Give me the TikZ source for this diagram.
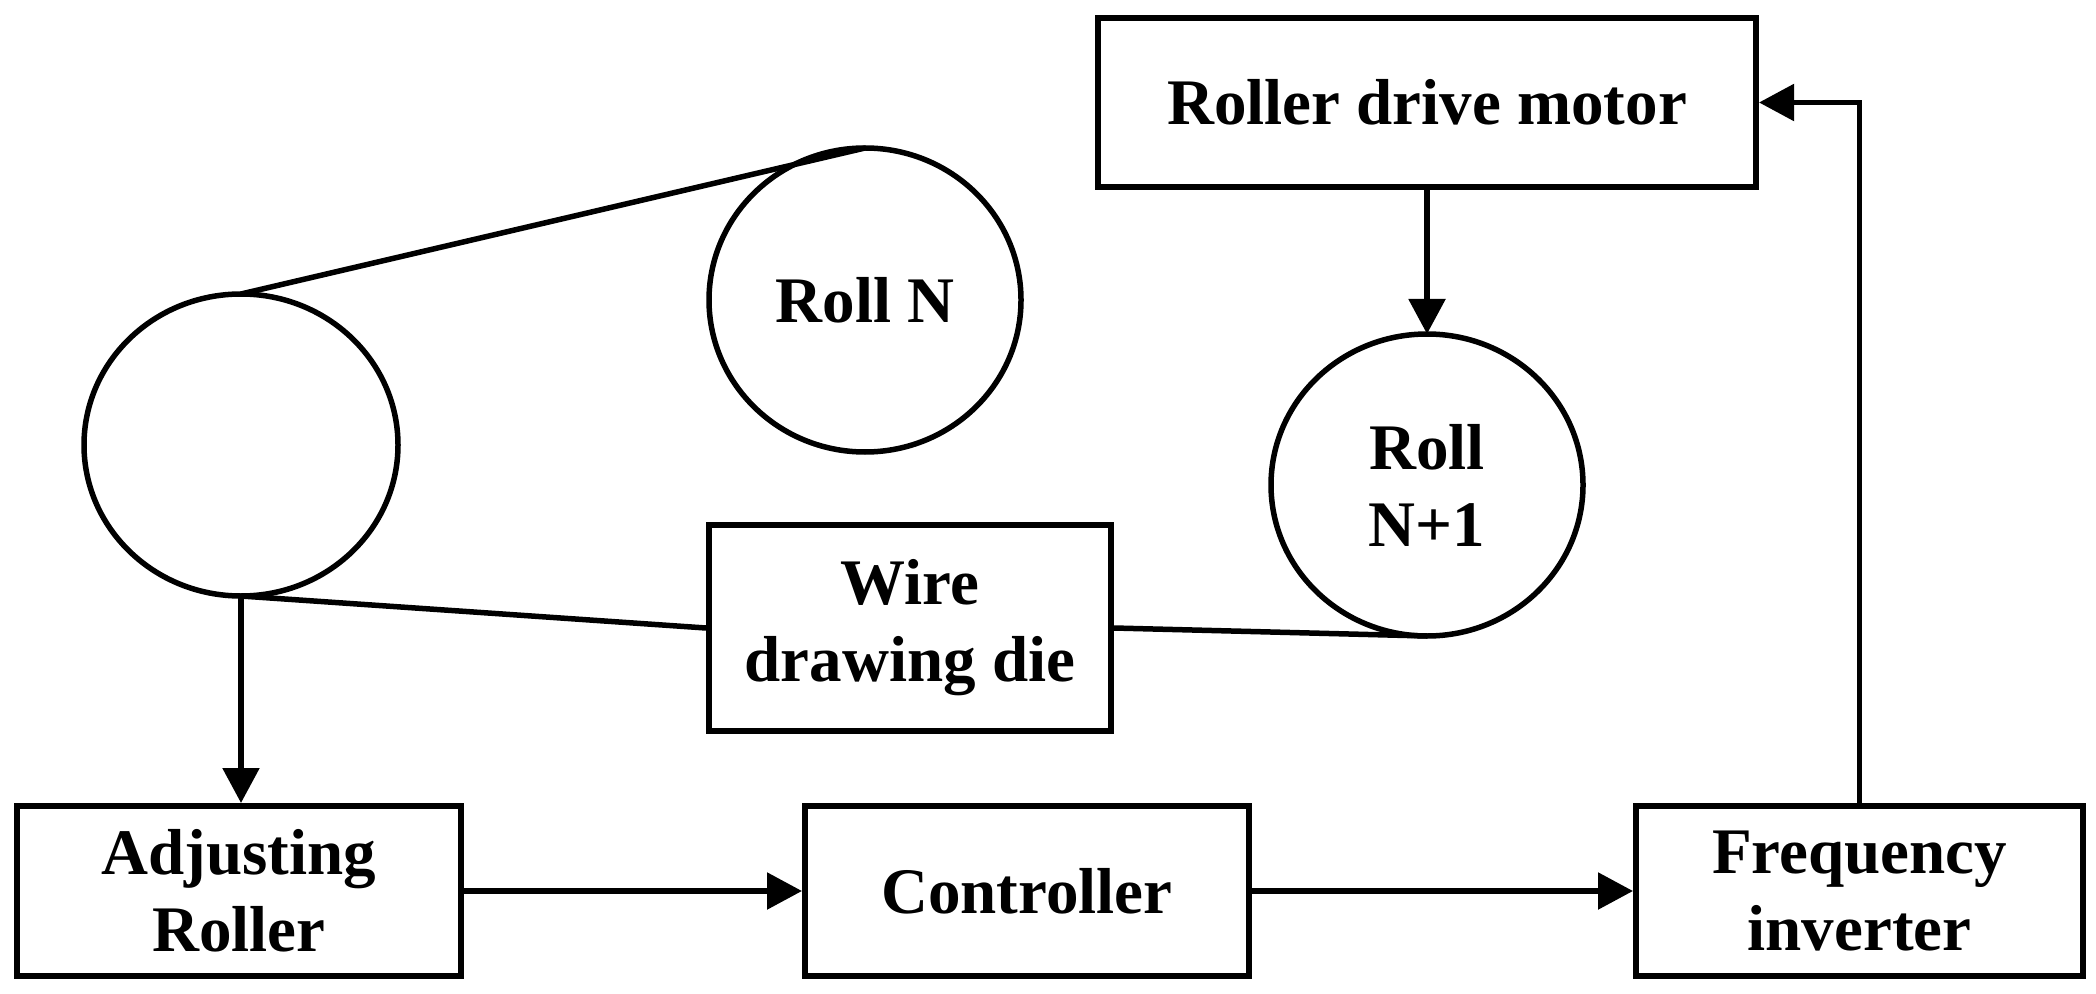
\documentclass[tikz,border=0pt]{standalone}
\usepackage{fontspec}
\setmainfont{Liberation Serif}
\usetikzlibrary{arrows.meta,shapes.geometric}
\begin{document}
\begin{tikzpicture}[x=0.5pt,y=-0.5pt,
  lbl/.style={font=\fontsize{32.5}{38.5}\selectfont\bfseries, align=center, inner sep=0pt},
  blk/.style={lbl, draw, rectangle, line width=3pt},
  roll/.style={lbl, draw, ellipse, line width=2.75pt, outer sep=0pt},
  wire/.style={line width=2.75pt},
  conn/.style={line width=2.75pt, -{Triangle[length=17.5pt,width=18pt]}}]
\useasboundingbox (0,0) rectangle (2096,994);
\node[blk, minimum width=329pt, minimum height=84.5pt] (motor) at (1427,102.5) {Roller drive motor};
\node[roll, minimum width=156pt, minimum height=151pt] (rollN1) at (1427,485) {Roll\\N+1};
\node[roll, minimum width=156pt, minimum height=152pt] (rollN) at (865,300) {Roll N};
\node[roll, minimum width=157pt, minimum height=151pt] (left) at (241,445) {};
\node[blk, minimum width=201pt, minimum height=103pt] (die) at (910,628) {Wire\\drawing die};
\node[blk, minimum width=222pt, minimum height=85pt] (adj) at (239,891) {Adjusting\\Roller};
\node[blk, minimum width=222pt, minimum height=85pt] (ctrl) at (1027,891) {Controller};
\node[blk, minimum width=223.5pt, minimum height=85pt] (freq) at (1859.5,891) {Frequency\\inverter};
\draw[wire] (left.north) -- (rollN.north);
\draw[wire] (left.south) -- (die.west);
\draw[wire] (die.east) -- (rollN1.south);
\draw[conn] (left.south) -- (left.south |- adj.north);
\draw[conn] (adj.east) -- (ctrl.west);
\draw[conn] (ctrl.east) -- (freq.west);
\draw[conn] (freq.north) -- (freq.north |- motor.east) -- (motor.east);
\draw[conn] (motor.south) -- (rollN1.north);
\end{tikzpicture}
\end{document}
